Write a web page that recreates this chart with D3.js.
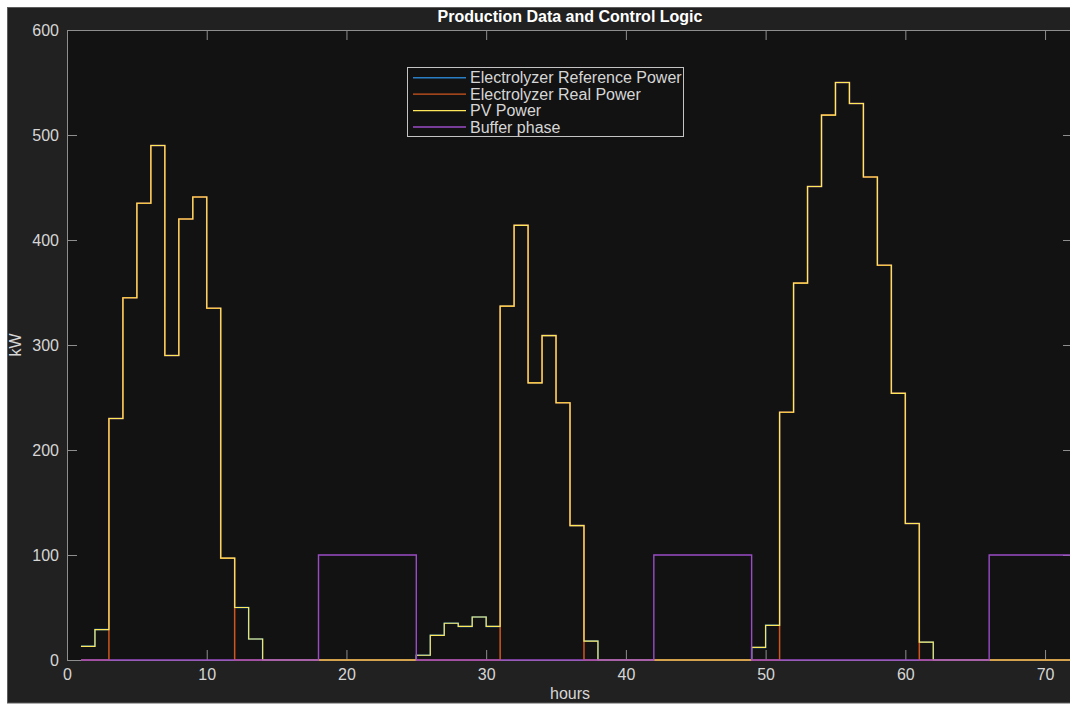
<!DOCTYPE html>
<html>
<head>
<meta charset="utf-8">
<script src="https://cdn.jsdelivr.net/npm/d3@7"></script>
<style>
  html, body { margin: 0; padding: 0; background: #ffffff; }
  svg { display: block; }
  text { font-family: "Liberation Sans", Arial, Helvetica, sans-serif; }
</style>
</head>
<body>
<svg id="chart" width="1070" height="704"></svg>
<script>
// Hourly samples, hours 1..72 (stairs: each value holds for the following hour)
const hours = d3.range(1, 73);

// PV production, kW
const pvPower = [
  13, 29, 230, 345, 435, 490, 290, 420, 441, 335, 97, 50, 20,
  0, 0, 0, 0, 0, 0, 0, 0, 0, 0, 0,
  4.5, 23.5, 35, 32, 41, 32, 337, 414, 264, 309, 245, 128, 18,
  0, 0, 0, 0, 0, 0, 0, 0, 0, 0, 0,
  12, 33, 236, 359, 451, 519, 550, 530, 460, 376, 254, 130, 17,
  0, 0, 0, 0, 0, 0, 0, 0, 0, 0, 0
];

// Reference power requested from the electrolyzer, kW
const refPower = [
  13, 29, 230, 345, 435, 490, 290, 420, 441, 335, 97, 50, 20,
  0, 0, 0, 0, 0, 0, 0, 0, 0, 0, 0,
  4.5, 23.5, 35, 32, 41, 32, 337, 414, 264, 309, 245, 128, 18,
  0, 0, 0, 0, 0, 0, 0, 0, 0, 0, 0,
  12, 33, 236, 359, 451, 519, 550, 530, 460, 376, 254, 130, 17,
  0, 0, 0, 0, 0, 0, 0, 0, 0, 0, 0
];

// Power actually absorbed by the electrolyzer, kW
const realPower = [
  0, 0, 230, 345, 435, 490, 290, 420, 441, 335, 97, 0, 0,
  0, 0, 0, 0, 0, 0, 0, 0, 0, 0, 0,
  0, 0, 0, 0, 0, 0, 337, 414, 264, 309, 245, 128, 0,
  0, 0, 0, 0, 0, 0, 0, 0, 0, 0, 0,
  0, 0, 236, 359, 451, 519, 550, 530, 460, 376, 254, 130, 0,
  0, 0, 0, 0, 0, 0, 0, 0, 0, 0, 0
];

// Buffer phase flag drawn at 100 kW when active
const bufferPhase = [
  0, 0, 0, 0, 0, 0, 0, 0, 0, 0, 0, 0, 0, 0, 0, 0, 0,
  100, 100, 100, 100, 100, 100, 100,
  0, 0, 0, 0, 0, 0, 0, 0, 0, 0, 0, 0, 0, 0, 0, 0, 0,
  100, 100, 100, 100, 100, 100, 100,
  0, 0, 0, 0, 0, 0, 0, 0, 0, 0, 0, 0, 0, 0, 0, 0, 0,
  100, 100, 100, 100, 100, 100, 100
];

const xTicks = [0, 10, 20, 30, 40, 50, 60, 70];
const yTicks = [0, 100, 200, 300, 400, 500, 600];

const seriesNames = ["Electrolyzer Reference Power", "Electrolyzer Real Power", "PV Power", "Buffer phase"];
const seriesColors = ["#2a7fc4", "#d0561e", "#ffe85a", "#9a4cc6"];

const svg = d3.select("#chart");
const margin = { left: 67, top: 30, right: 1073, bottom: 660 };

const x = d3.scaleLinear().domain([0, 72]).range([margin.left, margin.right]);
const y = d3.scaleLinear().domain([0, 600]).range([margin.bottom, margin.top]);

// Figure background
svg.append("rect")
  .attr("x", 7.5).attr("y", 7.5)
  .attr("width", 1070).attr("height", 695.5)
  .attr("fill", "#212121")
  .attr("stroke", "#5c5c5c").attr("stroke-width", 1);

// Axes background
svg.append("rect")
  .attr("x", margin.left).attr("y", margin.top)
  .attr("width", margin.right - margin.left)
  .attr("height", margin.bottom - margin.top)
  .attr("fill", "#121212");

const axisColor = "#8e8e8e";
const labelColor = "#d6d6d6";

function styleAxis(g) {
  g.select(".domain").attr("stroke", axisColor).attr("stroke-width", 1);
  g.selectAll(".tick line").attr("stroke", axisColor).attr("stroke-width", 1);
  g.selectAll(".tick text")
    .attr("fill", labelColor)
    .style("font-size", "16px")
    .style("font-family", "'Liberation Sans', Arial, sans-serif");
}

svg.append("g")
  .attr("transform", `translate(0,${margin.top})`)
  .call(d3.axisTop(x).tickValues(xTicks).tickSizeInner(-10).tickSizeOuter(0).tickFormat(""))
  .call(styleAxis);

svg.append("g")
  .attr("transform", `translate(${margin.right},0)`)
  .call(d3.axisRight(y).tickValues(yTicks).tickSizeInner(-10).tickSizeOuter(0).tickFormat(""))
  .call(styleAxis);

svg.append("g")
  .attr("transform", `translate(${margin.left},0)`)
  .call(d3.axisLeft(y).tickValues(yTicks).tickSizeInner(-10).tickSizeOuter(0).tickPadding(8))
  .call(styleAxis);

svg.append("g")
  .attr("transform", `translate(0,${margin.bottom})`)
  .call(d3.axisBottom(x).tickValues(xTicks).tickSizeInner(-10).tickSizeOuter(0).tickPadding(9))
  .call(styleAxis);

// Stair-step lines
const stairs = d3.line()
  .x(d => x(d[0]))
  .y(d => y(d[1]))
  .curve(d3.curveStepAfter);

const series = [
  { values: refPower, color: seriesColors[0], width: 1.5 },
  { values: realPower, color: seriesColors[1], width: 1.5 },
  { values: pvPower, color: seriesColors[2], width: 1.15 },
  { values: bufferPhase, color: seriesColors[3], width: 1.4 }
];

const lines = svg.append("g");
series.forEach(s => {
  lines.append("path")
    .datum(hours.map((h, i) => [h, s.values[i]]))
    .attr("fill", "none")
    .attr("stroke", s.color)
    .attr("stroke-width", s.width)
    .attr("stroke-linejoin", "miter")
    .attr("d", stairs);
});

// Title and axis labels
svg.append("text")
  .attr("x", (margin.left + margin.right) / 2)
  .attr("y", 22)
  .attr("text-anchor", "middle")
  .attr("fill", "#ffffff")
  .style("font-size", "16px")
  .style("font-weight", "bold")
  .text("Production Data and Control Logic");

svg.append("text")
  .attr("x", (margin.left + margin.right) / 2)
  .attr("y", 699)
  .attr("text-anchor", "middle")
  .attr("fill", labelColor)
  .style("font-size", "16px")
  .text("hours");

svg.append("text")
  .attr("transform", `translate(21,${(margin.top + margin.bottom) / 2}) rotate(-90)`)
  .attr("text-anchor", "middle")
  .attr("fill", labelColor)
  .style("font-size", "16px")
  .text("kW");

// Legend
const legend = svg.append("g");
legend.append("rect")
  .attr("x", 407.5).attr("y", 67.5)
  .attr("width", 276).attr("height", 69)
  .attr("fill", "#121212")
  .attr("stroke", "#c4c4c4").attr("stroke-width", 1);

seriesNames.forEach((name, i) => {
  const ly = 77.7 + i * 16.45;
  legend.append("line")
    .attr("x1", 413).attr("x2", 466)
    .attr("y1", ly).attr("y2", ly)
    .attr("stroke", seriesColors[i])
    .attr("stroke-width", 1.4);
  legend.append("text")
    .attr("x", 470)
    .attr("y", ly)
    .attr("dy", "0.35em")
    .attr("fill", labelColor)
    .style("font-size", "16px")
    .text(name);
});
</script>
</body>
</html>
